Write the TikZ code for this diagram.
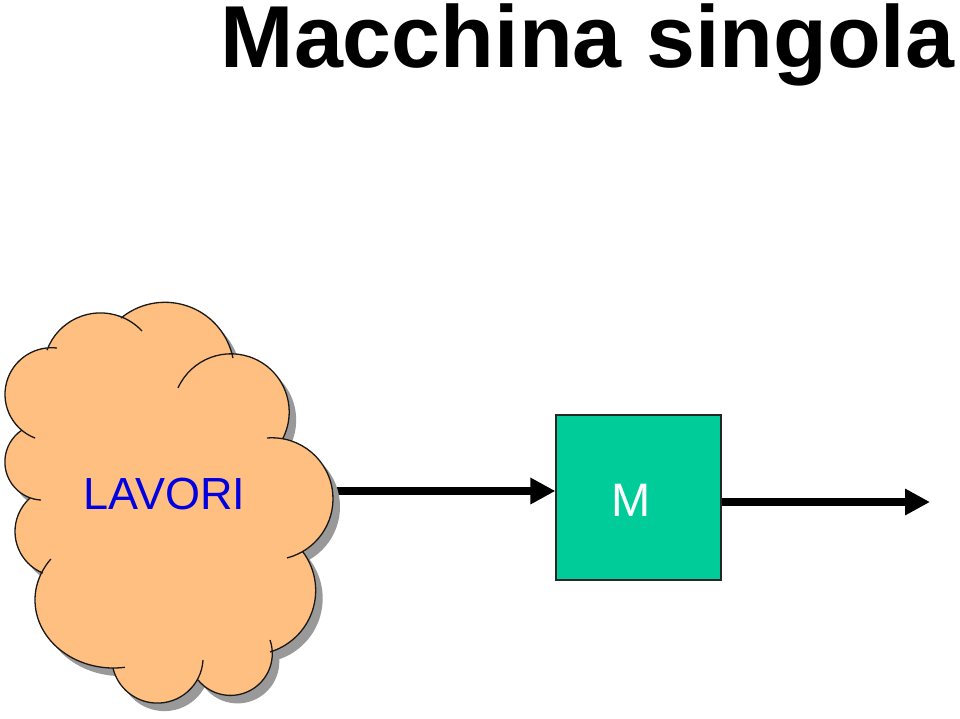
\documentclass[tikz,border=0pt]{standalone}
\usepackage{fontspec}
\setmainfont{Liberation Sans}
\usetikzlibrary{arrows.meta}
\definecolor{CloudPeach}{HTML}{FFBF80}
\definecolor{MachGreen}{HTML}{00CC99}
\definecolor{LavBlue}{HTML}{0000E0}
\definecolor{ShadowGray}{HTML}{999999}
% cusps of the cloud, clockwise from the top left
\newcommand{\cloudcore}{(50,349) -- (121,318) -- (232,358) -- (283,438) -- (303,552) -- (270,652)
  -- (198,680) -- (113,668) -- (43,573) -- (30,498) -- (22,430) -- cycle}
% one arc per puff, stubs included
\newcommand{\cloudpuffs}{
  ([shift={(100.4,369.8)}]200.3:56.9) arc[start angle=200.3,end angle=317,radius=56.9]
  ([shift={(165,371.6)}]230.6:69.3) arc[start angle=230.6,end angle=348.7,radius=69.3]
  ([shift={(231,412)}]204.4:58.2) arc[start angle=204.4,end angle=386.6,radius=58.2]
  ([shift={(272,498.8)}]265.3:61) arc[start angle=265.3,end angle=435.8,radius=61]
  ([shift={(251.4,590.4)}]323.3:64.3) arc[start angle=323.3,end angle=433.2,radius=64.3]
  ([shift={(230.5,653.6)}]-19:41.8) arc[start angle=-19,end angle=140.9,radius=41.8]
  ([shift={(157.4,657.4)}]3.3:45.7) arc[start angle=3.3,end angle=166.6,radius=45.7]
  ([shift={(113.5,600)}]81.6:78.5 and 68) arc[start angle=81.6,end angle=217,x radius=78.5,y radius=68]
  ([shift={(59.9,531.5)}]112.2:44.9) arc[start angle=112.2,end angle=228.3,radius=44.9]
  ([shift={(43.07,461.9)}]93.1:38.2) arc[start angle=93.1,end angle=236.6,radius=38.2]
  ([shift={(51.7,394.4)}]110.9:46.7) arc[start angle=110.9,end angle=276.5,radius=46.7]}

\begin{document}
\begin{tikzpicture}[
  x=1pt,y=-1pt,
  flow/.style={line width=8.5pt,-{Triangle[length=25pt,width=25pt]}},
  machine/.style={draw=black!85,line width=1.2pt,fill=MachGreen,
    minimum width=165pt,minimum height=165pt,inner sep=0pt},
  heading/.style={font=\fontsize{88}{100}\selectfont\bfseries,anchor=base west,inner sep=0pt},
  cloudtext/.style={font=\fontsize{45}{54}\selectfont,text=LavBlue,inner sep=0pt},
  machtext/.style={font=\fontsize{47}{56}\selectfont,text=white,inner sep=0pt}
]
  \useasboundingbox (0,0) rectangle (960,718);
  \node[heading] (title) at (220.5,67) {Macchina singola};

  \node[machine] (m) at (638.5,497.5) {};
  \node[machtext] (mlabel) at (631,500) {M};
  \coordinate (cloudE) at (336,491);
  \coordinate (outE) at (930,502);
  \draw[flow] (cloudE) -- (cloudE -| m.west);
  \draw[flow] (m.east |- outE) -- (outE);

  % cloud with its shadow
  \fill[ShadowGray,shift={(7,8)}] \cloudcore \cloudpuffs;
  \fill[CloudPeach] \cloudcore \cloudpuffs;
  \draw[black!90,line width=1.3pt] \cloudpuffs;
  \node[cloudtext] (lavori) at (164.5,493.5) {LAVORI};
\end{tikzpicture}
\end{document}
